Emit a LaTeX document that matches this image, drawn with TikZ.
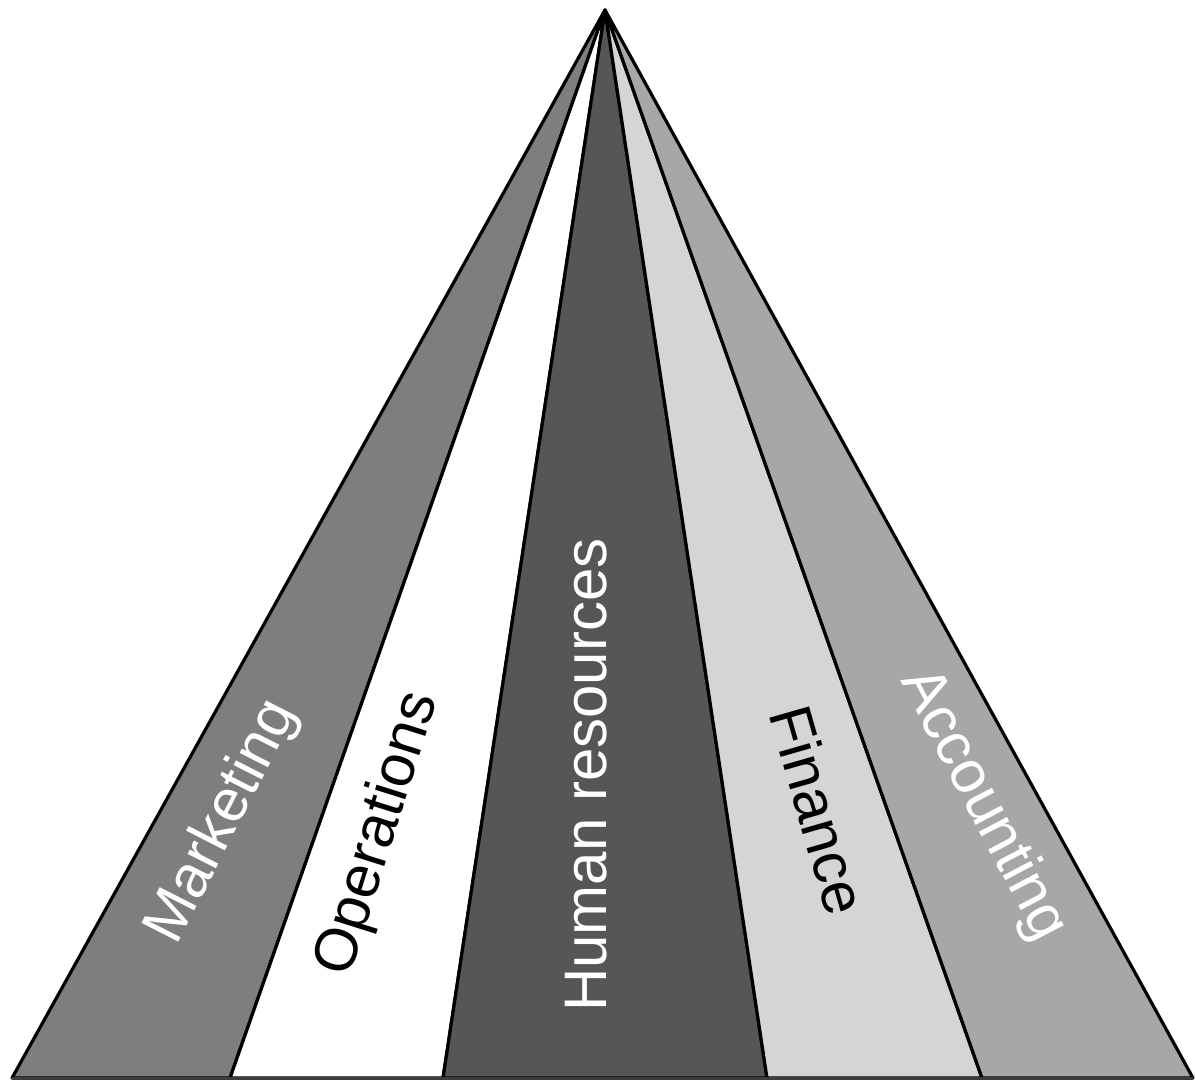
\documentclass[tikz,border=0pt]{standalone}
\usepackage{fontspec}
\setmainfont{Liberation Sans}
\definecolor{mkgray}{HTML}{7D7E80}
\definecolor{hrgray}{HTML}{555658}
\definecolor{fingray}{HTML}{D4D5D6}
\definecolor{accgray}{HTML}{A6A7A9}
\definecolor{basegray}{HTML}{3C3C3C}
\begin{document}
\begin{tikzpicture}[x=1pt,y=-1pt,
  wedge/.style={draw=black,line width=3.2pt,line join=round},
  label/.style={inner sep=0pt,text height=0.6em,text depth=0pt,
    font=\fontsize{60}{62}\selectfont}]
\useasboundingbox (0,0) rectangle (1195,1080);
% apex and the points where the dividers meet the base
\coordinate (apex) at (605,10);
\coordinate (b0) at (12,1078);
\coordinate (b1) at (230,1078);
\coordinate (b2) at (443,1078);
\coordinate (b3) at (767,1078);
\coordinate (b4) at (982,1078);
\coordinate (b5) at (1193,1078);
% the five wedges
\path[wedge,fill=mkgray]  (apex) -- (b0) -- (b1) -- cycle;
\path[wedge,fill=white]   (apex) -- (b1) -- (b2) -- cycle;
\path[wedge,fill=hrgray]  (apex) -- (b2) -- (b3) -- cycle;
\path[wedge,fill=fingray] (apex) -- (b3) -- (b4) -- cycle;
\path[wedge,fill=accgray] (apex) -- (b4) -- (b5) -- cycle;
% base line
\draw[basegray,line width=3pt] (b0) -- (b5);
% labels
\node[label,text=white,rotate=63]  (mk)  at (234,828) {Marketing};
\node[label,text=black,rotate=72.5](ops) at (391,838) {Operations};
\node[label,text=white,rotate=90]  (hr)  at (603,775) {Human resources};
\node[label,text=black,rotate=-74] (fin) at (801,815) {Finance};
\node[label,text=white,rotate=-62.3](acc) at (972,811) {Accounting};
\end{tikzpicture}
\end{document}
